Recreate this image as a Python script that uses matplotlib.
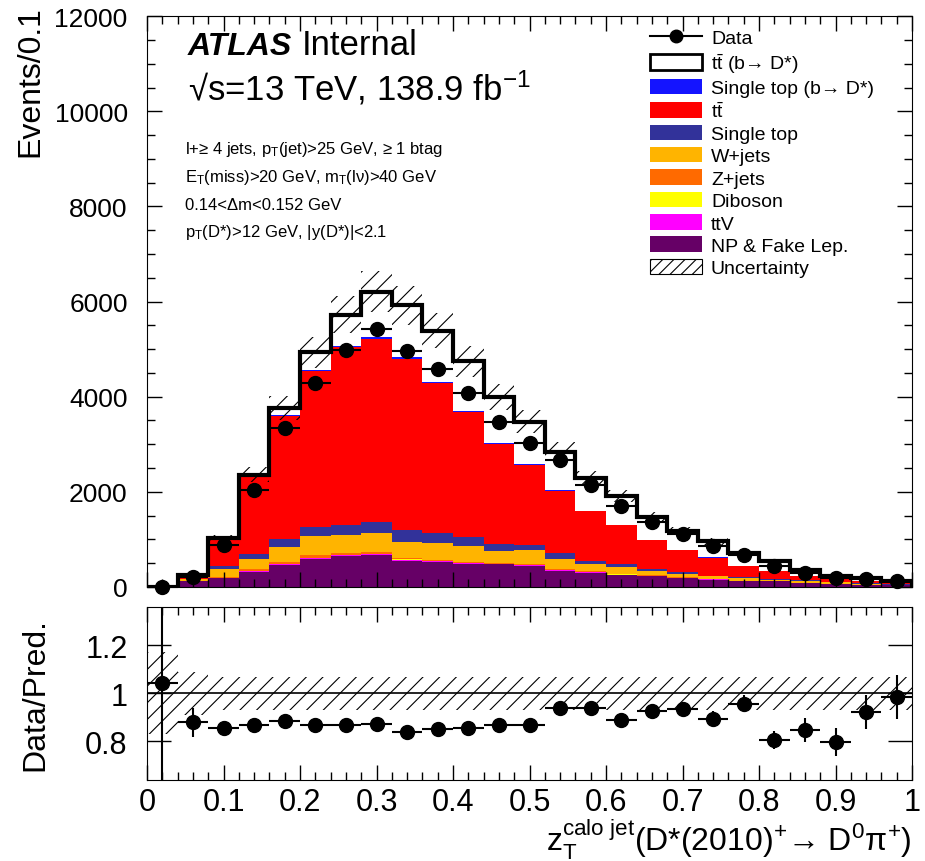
import numpy as np
import matplotlib
matplotlib.use("Agg")
import matplotlib.pyplot as plt
from matplotlib.patches import Patch
from matplotlib.lines import Line2D
from matplotlib.ticker import MultipleLocator

plt.rcParams['font.family'] = ['Liberation Sans', 'DejaVu Sans']
plt.rcParams['mathtext.fontset'] = 'custom'
plt.rcParams['mathtext.rm'] = 'Liberation Sans'
plt.rcParams['mathtext.it'] = 'Liberation Sans:italic'
plt.rcParams['mathtext.bf'] = 'Liberation Sans:bold'
plt.rcParams['hatch.linewidth'] = 0.8

# 25 bins of z_T from 0 to 1
edges = np.linspace(0, 1, 26)

# stacked predictions, bottom to top
np_fake = [3, 120, 180, 322, 469, 588, 644, 672, 553, 518, 483, 476, 448, 343, 300, 252, 224, 182, 154, 119, 120, 84, 60, 40, 30]
ttv = [0, 3, 6, 10, 14, 18, 20, 22, 20, 18, 16, 10, 10, 8, 7, 6, 5, 5, 4, 3, 3, 2, 2, 1, 1]
diboson = [0, 1, 2, 4, 5, 6, 7, 7, 6, 6, 6, 5, 5, 4, 3, 3, 2, 2, 2, 1, 1, 1, 1, 1, 0]
zjets = [0, 10, 20, 42, 30, 60, 43, 41, 23, 25, 27, 13, 20, 23, 15, 14, 12, 10, 8, 8, 6, 5, 4, 3, 2]
wjets = [0.5, 30, 170, 210, 315, 392, 378, 392, 350, 350, 322, 259, 301, 210, 158, 138, 100, 74, 56, 51, 20, 41, 30, 25, 15]
single_top = [0.5, 12, 56, 105, 175, 204, 210, 238, 252, 217, 189, 140, 105, 119, 70, 70, 35, 35, 14, 21, 20, 15, 10, 8, 5]
ttbar = [1.5, 50, 571, 1625, 2590, 3280, 3740, 3843, 3591, 3152, 2637, 2100, 1675, 1313, 1035, 808, 599, 468, 378, 240, 169, 87, 59, 53, 43]
st_dstar = [0, 2, 8, 12, 18, 22, 28, 30, 30, 28, 25, 22, 20, 18, 15, 12, 10, 8, 7, 5, 4, 3, 2, 2, 2]
tt_dstar = [0.25, 12, 17, 30, 144, 360, 650, 965, 1095, 1076, 1040, 960, 891, 807, 682, 612, 488, 401, 332, 262, 207, 107, 70, 49, 20]

data = [6, 211, 881, 2046, 3335, 4289, 4976, 5430, 4961, 4582, 4071, 3467, 3023, 2674, 2148, 1704, 1364, 1106, 855, 680, 443, 292, 190, 168, 116]

# relative systematic uncertainty per bin
unc_rel = [0.17, 0.09, 0.068, 0.068, 0.068, 0.068, 0.068, 0.068, 0.068, 0.068, 0.068, 0.068, 0.068,
           0.068, 0.068, 0.068, 0.068, 0.068, 0.068, 0.068, 0.068, 0.068, 0.068, 0.068, 0.068]

components = [
    (np_fake, '#660066', 'NP & Fake Lep.'),
    (ttv, '#ff00ff', 'ttV'),
    (diboson, '#ffff00', 'Diboson'),
    (zjets, '#ff6a00', 'Z+jets'),
    (wjets, '#ffb400', 'W+jets'),
    (single_top, '#32329a', 'Single top'),
    (ttbar, '#ff0000', r't$\bar{\mathrm{t}}$'),
    (st_dstar, '#1414ff', 'Single top (b→ D*)'),
    (tt_dstar, '#ffffff', r't$\bar{\mathrm{t}}$ (b→ D*)'),
]

fig = plt.figure(figsize=(9.25, 8.62), dpi=100)
ax = fig.add_axes([0.159, 0.318, 0.827, 0.662])
axr = fig.add_axes([0.159, 0.094, 0.827, 0.201])

centers = 0.5 * (edges[:-1] + edges[1:])
half = 0.5 * (edges[1] - edges[0])
data = np.array(data, dtype=float)

bottom = np.zeros(25)
for vals, col, lab in components:
    top = bottom + np.array(vals, dtype=float)
    ax.stairs(top, edges, baseline=bottom, fill=True, color=col, lw=0)
    bottom = top
total = bottom
ax.stairs(total, edges, color='black', lw=3)

unc = np.array(unc_rel)
ax.stairs(total * (1 + unc), edges, baseline=total * (1 - unc), fill=True,
          facecolor='none', edgecolor='black', lw=0, hatch='//')

ax.errorbar(centers, data, xerr=half, yerr=np.sqrt(data), fmt='o', color='black',
            ms=10, elinewidth=1.5, capsize=0, clip_on=False, zorder=5)

ax.set_xlim(0, 1)
ax.set_ylim(0, 12000)
ax.xaxis.set_major_locator(MultipleLocator(0.1))
ax.xaxis.set_minor_locator(MultipleLocator(0.02))
ax.yaxis.set_major_locator(MultipleLocator(2000))
ax.yaxis.set_minor_locator(MultipleLocator(500))
ax.tick_params(which='both', direction='in', top=True, right=True, labelbottom=False)
ax.tick_params(which='major', length=11, width=1, labelsize=19, pad=14)
ax.tick_params(which='minor', length=6, width=1)
ax.set_ylabel('Events/0.1', fontsize=23, loc='top')
ax.yaxis.set_label_coords(-0.133, 1.02)

# ATLAS labels
ax.text(0.0536, 0.933, 'ATLAS', transform=ax.transAxes, fontsize=23, fontweight='bold',
        fontstyle='italic', va='baseline')
ax.text(0.2026, 0.933, 'Internal', transform=ax.transAxes, fontsize=25, va='baseline')
ax.text(0.0536, 0.855, '√s=13 TeV, 138.9 fb$^{-1}$', transform=ax.transAxes, fontsize=25,
        va='baseline')
sel_lines = [
    r'l+≥ 4 jets, p$_\mathrm{T}$(jet)>25 GeV, ≥ 1 btag',
    r'E$_\mathrm{T}$(miss)>20 GeV, m$_\mathrm{T}$(lν)>40 GeV',
    '0.14<Δm<0.152 GeV',
    r'p$_\mathrm{T}$(D*)>12 GeV, |y(D*)|<2.1',
]
for txt, yy in zip(sel_lines, [0.760, 0.711, 0.662, 0.615]):
    ax.text(0.0497, yy, txt, transform=ax.transAxes, fontsize=12, va='baseline')

# legend
handles = [Line2D([], [], color='black', marker='o', ms=9, lw=1.5)]
labels = ['Data']
for vals, col, lab in reversed(components):
    if col == '#ffffff':
        handles.append(Patch(facecolor='white', edgecolor='black', lw=2))
    else:
        handles.append(Patch(facecolor=col, edgecolor=col, lw=0))
    labels.append(lab)
handles.append(Patch(facecolor='white', edgecolor='black', lw=0.8, hatch='///'))
labels.append('Uncertainty')
ax.legend(handles, labels, loc='upper left', bbox_to_anchor=(0.657, 0.978), frameon=False,
          fontsize=14, borderpad=0, borderaxespad=0, handlelength=2.7, handleheight=0.85,
          handletextpad=0.45, labelspacing=0.2)

# ratio panel
ratio = data / total
ratio_err = np.sqrt(data) / total
axr.stairs(1 + unc, edges, baseline=1 - unc, fill=True, facecolor='none',
           edgecolor='black', lw=0, hatch='//')
axr.axhline(1, color='black', lw=1.2)
axr.errorbar(centers, ratio, xerr=half, yerr=ratio_err, fmt='o', color='black',
             ms=10, elinewidth=1.5, capsize=0, zorder=5)
axr.set_xlim(0, 1)
axr.set_ylim(0.64, 1.36)
axr.set_yticks([0.8, 1.0, 1.2])
axr.set_yticklabels(['0.8', '1', '1.2'])
axr.xaxis.set_minor_locator(MultipleLocator(0.02))
axr.set_xticks([0, 0.1, 0.2, 0.3, 0.4, 0.5, 0.6, 0.7, 0.8, 0.9, 1])
axr.set_xticklabels(['0', '0.1', '0.2', '0.3', '0.4', '0.5', '0.6', '0.7', '0.8', '0.9', '1'])
axr.tick_params(which='both', direction='in', top=True, right=True)
axr.tick_params(axis='x', which='major', length=11, width=1, labelsize=22, pad=5)
axr.tick_params(axis='x', which='minor', length=6, width=1)
axr.tick_params(axis='y', which='major', length=17, width=1, labelsize=22, pad=14)
axr.set_ylabel('Data/Pred.', fontsize=23)
axr.yaxis.set_label_coords(-0.127, 0.5)
axr.set_xlabel(r'z$_\mathrm{T}^\mathrm{calo\ jet}$(D*(2010)$^{+}$→ D$^{0}$π$^{+}$)',
               fontsize=23, loc='right', labelpad=0)

fig.savefig('out.png', dpi=100)
